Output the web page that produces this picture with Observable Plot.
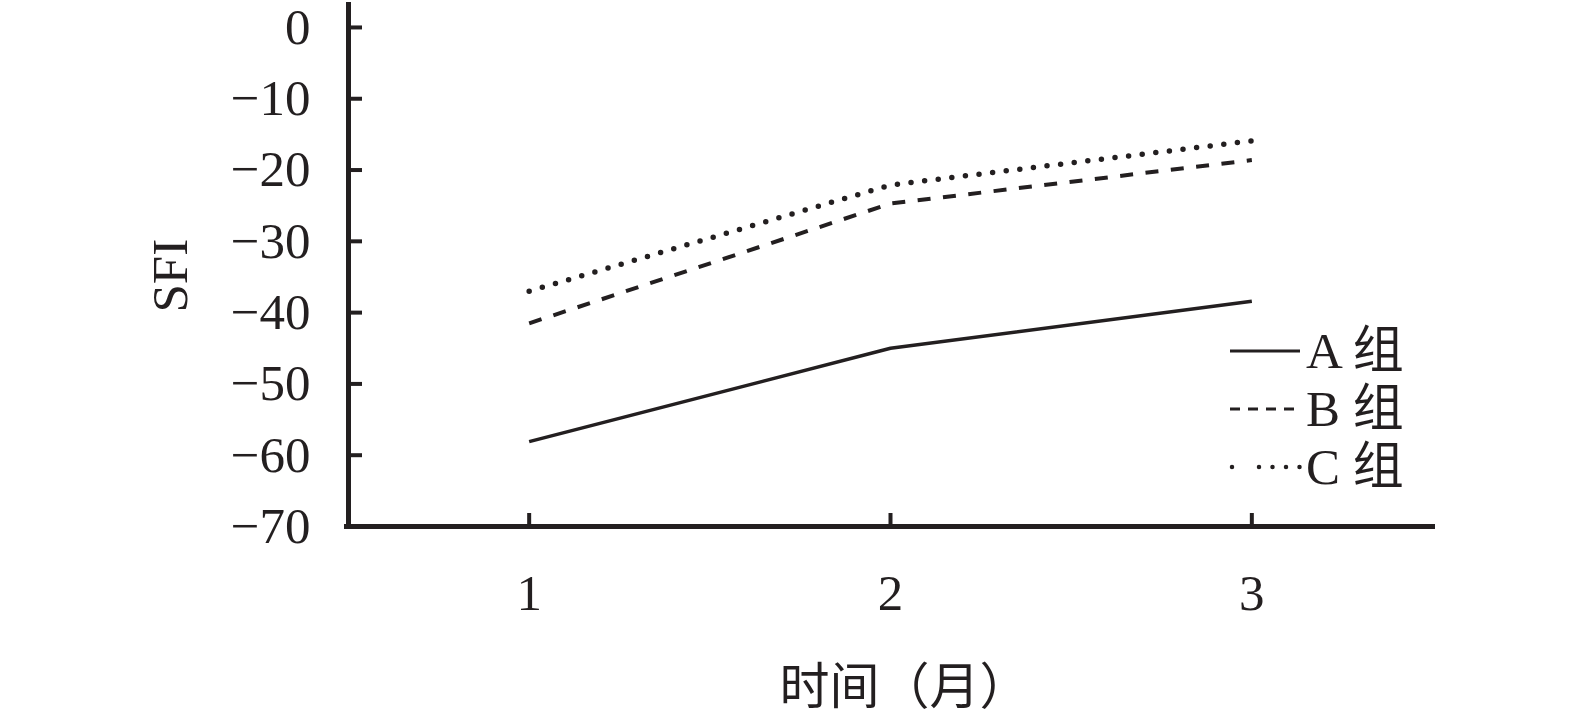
<!DOCTYPE html>
<html>
<head>
<meta charset="utf-8">
<script src="https://cdn.jsdelivr.net/npm/d3@7"></script>
<script src="https://cdn.jsdelivr.net/npm/@observablehq/plot@0.6"></script>
<style>
  html, body { margin: 0; padding: 0; background: #fff; }
  #wrap { position: relative; width: 1575px; height: 717px; }
  #legend { position: absolute; left: 0; top: 0; }
</style>
</head>
<body>
<div id="wrap"></div>
<script>
const months = [1, 2, 3];
const groupA = [-58.1, -45.0, -38.4];
const groupB = [-41.5, -24.7, -18.6];
const groupC = [-37.0, -22.1, -15.9];
const seriesNames = ["A 组", "B 组", "C 组"];
const yTicks = [0, -10, -20, -30, -40, -50, -60, -70];
const xTicks = [1, 2, 3];
const xLabel = "时间（月）";
const yLabel = "SFI";

const ink = "#231f20";
const serif = "'Liberation Serif', 'Times New Roman', 'Noto Sans CJK SC', serif";
const styles = {
  "A 组": {strokeWidth: 3.5, strokeDasharray: null, strokeLinecap: "butt"},
  "B 组": {strokeWidth: 4, strokeDasharray: "13,12.5", strokeLinecap: "butt"},
  "C 组": {strokeWidth: 5.5, strokeDasharray: "0,13.7", strokeLinecap: "round"}
};
const seriesValues = [groupA, groupB, groupC];
const rows = seriesNames.flatMap((name, i) => months.map((m, j) => ({group: name, month: m, value: seriesValues[i][j]})));

const lineMarks = seriesNames.map(name =>
  Plot.line(rows.filter(d => d.group === name), {
    x: "month", y: "value", stroke: ink,
    strokeWidth: styles[name].strokeWidth,
    strokeDasharray: styles[name].strokeDasharray,
    strokeLinecap: styles[name].strokeLinecap
  })
);

const chart = Plot.plot({
  width: 1575,
  height: 717,
  marginLeft: 348,
  marginRight: 143,
  marginTop: 2,
  marginBottom: 191,
  style: {fontFamily: serif, fontSize: "51px", color: ink, background: "#fff", overflow: "visible"},
  x: {domain: [0.5, 3.5]},
  y: {domain: [-70, 3.5]},
  marks: [
    Plot.axisY(yTicks, {tickSize: -14, tickPadding: 52, strokeWidth: 4, stroke: ink, fill: ink, fontSize: 51, label: null, tickFormat: d => d3.format("d")(d).replace("-", "−")}),
    Plot.axisX(xTicks, {tickSize: -13, tickPadding: 60, strokeWidth: 4, stroke: ink, fill: ink, fontSize: 51, label: null, tickFormat: d3.format("d")}),
    Plot.ruleX([0.5], {stroke: ink, strokeWidth: 5}),
    Plot.ruleY([-70], {stroke: ink, strokeWidth: 5, insetLeft: -4, insetRight: -3}),
    ...lineMarks,
    Plot.text([yLabel], {frameAnchor: "left", dx: -178, dy: 48, rotate: -90, fontSize: 51, fill: ink}),
    Plot.text([xLabel], {frameAnchor: "bottom", dx: 14, dy: 177, fontSize: 50, fill: ink, fontFamily: "'Noto Sans CJK SC', sans-serif"})
  ]
});
document.getElementById("wrap").appendChild(chart);

// Legend overlay
const svg = d3.select("#wrap").append("svg")
  .attr("id", "legend").attr("width", 1575).attr("height", 717);
const legendX = 1230, legendY0 = 351, legendStep = 58, legendLen = 70;
const legendDash = {"A 组": null, "B 组": "10,8", "C 组": "0,27,0,13.5,0,13.5,0,13.5,0,40"};
seriesNames.forEach((name, i) => {
  const y = legendY0 + i * legendStep;
  const s = styles[name];
  svg.append("line")
    .attr("x1", legendX + (name === "C 组" ? 2 : 0)).attr("x2", legendX + legendLen)
    .attr("y1", y).attr("y2", y)
    .attr("stroke", ink)
    .attr("stroke-width", name === "C 组" ? 4.5 : 3)
    .attr("stroke-dasharray", legendDash[name])
    .attr("stroke-linecap", s.strokeLinecap);
  svg.append("text")
    .attr("x", legendX + legendLen + 6).attr("y", y + 17)
    .attr("fill", ink)
    .style("font-family", serif)
    .style("font-size", "51px")
    .text(name);
});
</script>
</body>
</html>
